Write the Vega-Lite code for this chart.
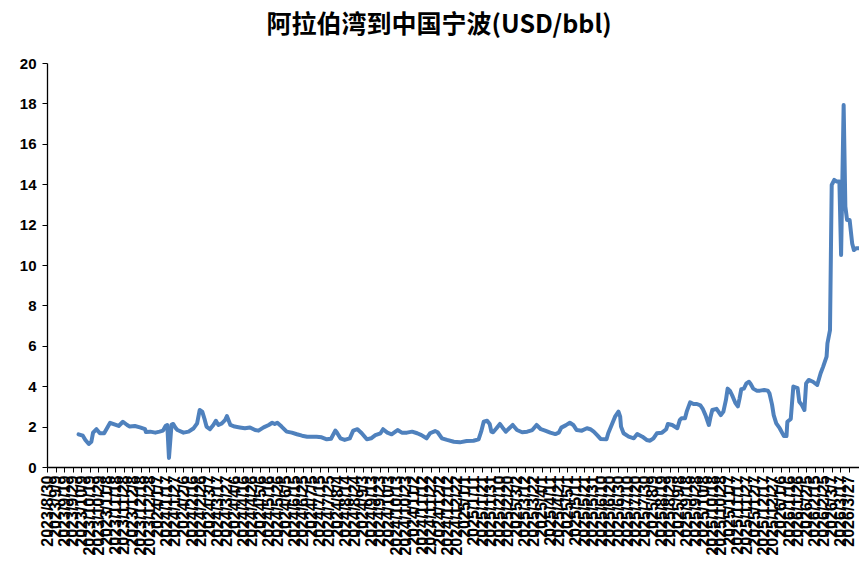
{
  "$schema": "https://vega.github.io/schema/vega-lite/v6.json",
  "autosize": {"type": "none"},
  "width": 812,
  "height": 404,
  "padding": {"left": 47, "top": 63, "right": 0, "bottom": 96},
  "background": "white",
  "title": {
    "text": "阿拉伯湾到中国宁波(USD/bbl)",
    "font": "Noto Sans CJK SC",
    "fontSize": 25,
    "fontWeight": "bold",
    "color": "#000000",
    "anchor": "middle",
    "frame": "bounds",
    "offset": 18
  },
  "config": {
    "view": {"stroke": null},
    "axis": {"grid": false, "domainColor": "#000000", "tickColor": "#000000", "labelColor": "#000000", "labelFont": "Liberation Sans", "labelFontWeight": "bold"}
  },
  "data": {
    "values": [
      {"d": "2023-10-01", "v": 1.62}, {"d": "2023-10-06", "v": 1.55}, {"d": "2023-10-09", "v": 1.34}, {"d": "2023-10-13", "v": 1.14},
      {"d": "2023-10-16", "v": 1.25}, {"d": "2023-10-18", "v": 1.70}, {"d": "2023-10-22", "v": 1.87}, {"d": "2023-10-26", "v": 1.67},
      {"d": "2023-10-31", "v": 1.67}, {"d": "2023-11-07", "v": 2.19}, {"d": "2023-11-12", "v": 2.11}, {"d": "2023-11-17", "v": 2.03},
      {"d": "2023-11-22", "v": 2.24}, {"d": "2023-11-27", "v": 2.08}, {"d": "2023-11-30", "v": 2.00}, {"d": "2023-12-06", "v": 2.03},
      {"d": "2023-12-12", "v": 1.96}, {"d": "2023-12-18", "v": 1.87}, {"d": "2023-12-19", "v": 1.73}, {"d": "2023-12-24", "v": 1.75},
      {"d": "2023-12-30", "v": 1.70}, {"d": "2024-01-04", "v": 1.75}, {"d": "2024-01-08", "v": 1.80}, {"d": "2024-01-11", "v": 2.03},
      {"d": "2024-01-13", "v": 2.08}, {"d": "2024-01-15", "v": 0.45}, {"d": "2024-01-18", "v": 2.10}, {"d": "2024-01-20", "v": 2.13},
      {"d": "2024-01-23", "v": 1.92}, {"d": "2024-01-25", "v": 1.83}, {"d": "2024-02-01", "v": 1.70}, {"d": "2024-02-07", "v": 1.75},
      {"d": "2024-02-13", "v": 1.92}, {"d": "2024-02-17", "v": 2.16}, {"d": "2024-02-20", "v": 2.82}, {"d": "2024-02-23", "v": 2.74},
      {"d": "2024-02-26", "v": 2.33}, {"d": "2024-02-28", "v": 2.00}, {"d": "2024-03-03", "v": 1.87}, {"d": "2024-03-07", "v": 2.08},
      {"d": "2024-03-10", "v": 2.29}, {"d": "2024-03-13", "v": 2.08}, {"d": "2024-03-17", "v": 2.16}, {"d": "2024-03-21", "v": 2.33},
      {"d": "2024-03-23", "v": 2.52}, {"d": "2024-03-27", "v": 2.08}, {"d": "2024-04-01", "v": 2.00}, {"d": "2024-04-07", "v": 1.96},
      {"d": "2024-04-13", "v": 1.92}, {"d": "2024-04-19", "v": 1.96}, {"d": "2024-04-25", "v": 1.83}, {"d": "2024-04-29", "v": 1.80},
      {"d": "2024-05-05", "v": 1.96}, {"d": "2024-05-11", "v": 2.08}, {"d": "2024-05-15", "v": 2.19}, {"d": "2024-05-18", "v": 2.13},
      {"d": "2024-05-21", "v": 2.19}, {"d": "2024-05-26", "v": 2.00}, {"d": "2024-06-01", "v": 1.75}, {"d": "2024-06-07", "v": 1.70},
      {"d": "2024-06-13", "v": 1.62}, {"d": "2024-06-19", "v": 1.55}, {"d": "2024-06-25", "v": 1.50}, {"d": "2024-06-29", "v": 1.50},
      {"d": "2024-07-06", "v": 1.50}, {"d": "2024-07-12", "v": 1.47}, {"d": "2024-07-18", "v": 1.37}, {"d": "2024-07-23", "v": 1.40},
      {"d": "2024-07-28", "v": 1.80}, {"d": "2024-07-30", "v": 1.70}, {"d": "2024-08-03", "v": 1.42}, {"d": "2024-08-08", "v": 1.34},
      {"d": "2024-08-14", "v": 1.42}, {"d": "2024-08-18", "v": 1.80}, {"d": "2024-08-23", "v": 1.87}, {"d": "2024-08-28", "v": 1.67},
      {"d": "2024-09-03", "v": 1.37}, {"d": "2024-09-08", "v": 1.42}, {"d": "2024-09-13", "v": 1.58}, {"d": "2024-09-19", "v": 1.67},
      {"d": "2024-09-22", "v": 1.87}, {"d": "2024-09-27", "v": 1.70}, {"d": "2024-10-02", "v": 1.62}, {"d": "2024-10-09", "v": 1.83},
      {"d": "2024-10-14", "v": 1.70}, {"d": "2024-10-20", "v": 1.70}, {"d": "2024-10-26", "v": 1.75}, {"d": "2024-11-01", "v": 1.67},
      {"d": "2024-11-06", "v": 1.58}, {"d": "2024-11-12", "v": 1.42}, {"d": "2024-11-16", "v": 1.67}, {"d": "2024-11-22", "v": 1.78},
      {"d": "2024-11-25", "v": 1.72}, {"d": "2024-11-30", "v": 1.42}, {"d": "2024-12-06", "v": 1.34}, {"d": "2024-12-14", "v": 1.25},
      {"d": "2024-12-21", "v": 1.22}, {"d": "2024-12-29", "v": 1.29}, {"d": "2025-01-06", "v": 1.30}, {"d": "2025-01-12", "v": 1.37},
      {"d": "2025-01-15", "v": 1.75}, {"d": "2025-01-18", "v": 2.24}, {"d": "2025-01-22", "v": 2.29}, {"d": "2025-01-25", "v": 2.13},
      {"d": "2025-01-27", "v": 1.75}, {"d": "2025-01-29", "v": 1.72}, {"d": "2025-02-02", "v": 1.92}, {"d": "2025-02-06", "v": 2.13},
      {"d": "2025-02-09", "v": 1.96}, {"d": "2025-02-13", "v": 1.75}, {"d": "2025-02-17", "v": 1.92}, {"d": "2025-02-21", "v": 2.08},
      {"d": "2025-02-26", "v": 1.83}, {"d": "2025-03-04", "v": 1.72}, {"d": "2025-03-10", "v": 1.75}, {"d": "2025-03-16", "v": 1.83},
      {"d": "2025-03-21", "v": 2.08}, {"d": "2025-03-26", "v": 1.87}, {"d": "2025-03-31", "v": 1.80}, {"d": "2025-04-06", "v": 1.70},
      {"d": "2025-04-12", "v": 1.63}, {"d": "2025-04-16", "v": 1.70}, {"d": "2025-04-19", "v": 1.95}, {"d": "2025-04-24", "v": 2.06},
      {"d": "2025-04-29", "v": 2.19}, {"d": "2025-05-03", "v": 2.08}, {"d": "2025-05-07", "v": 1.83}, {"d": "2025-05-13", "v": 1.80},
      {"d": "2025-05-19", "v": 1.92}, {"d": "2025-05-23", "v": 1.87}, {"d": "2025-05-27", "v": 1.75}, {"d": "2025-05-31", "v": 1.58},
      {"d": "2025-06-04", "v": 1.39}, {"d": "2025-06-11", "v": 1.37}, {"d": "2025-06-13", "v": 1.67}, {"d": "2025-06-17", "v": 2.08},
      {"d": "2025-06-21", "v": 2.49}, {"d": "2025-06-25", "v": 2.74}, {"d": "2025-06-27", "v": 2.49}, {"d": "2025-06-28", "v": 2.00},
      {"d": "2025-07-01", "v": 1.67}, {"d": "2025-07-07", "v": 1.50}, {"d": "2025-07-13", "v": 1.42}, {"d": "2025-07-17", "v": 1.63},
      {"d": "2025-07-23", "v": 1.50}, {"d": "2025-07-28", "v": 1.34}, {"d": "2025-08-01", "v": 1.30}, {"d": "2025-08-05", "v": 1.42},
      {"d": "2025-08-09", "v": 1.67}, {"d": "2025-08-15", "v": 1.70}, {"d": "2025-08-20", "v": 1.87}, {"d": "2025-08-22", "v": 2.13},
      {"d": "2025-08-27", "v": 2.08}, {"d": "2025-09-02", "v": 1.92}, {"d": "2025-09-05", "v": 2.33}, {"d": "2025-09-07", "v": 2.41},
      {"d": "2025-09-11", "v": 2.41}, {"d": "2025-09-13", "v": 2.74}, {"d": "2025-09-17", "v": 3.20}, {"d": "2025-09-21", "v": 3.12},
      {"d": "2025-09-25", "v": 3.12}, {"d": "2025-09-29", "v": 3.05}, {"d": "2025-10-02", "v": 2.86}, {"d": "2025-10-05", "v": 2.57},
      {"d": "2025-10-09", "v": 2.08}, {"d": "2025-10-11", "v": 2.49}, {"d": "2025-10-13", "v": 2.82}, {"d": "2025-10-18", "v": 2.88},
      {"d": "2025-10-23", "v": 2.57}, {"d": "2025-10-26", "v": 2.74}, {"d": "2025-10-29", "v": 3.32}, {"d": "2025-10-31", "v": 3.88},
      {"d": "2025-11-03", "v": 3.75}, {"d": "2025-11-06", "v": 3.48}, {"d": "2025-11-09", "v": 3.18}, {"d": "2025-11-12", "v": 3.00},
      {"d": "2025-11-14", "v": 3.40}, {"d": "2025-11-16", "v": 3.85}, {"d": "2025-11-19", "v": 3.88}, {"d": "2025-11-22", "v": 4.14},
      {"d": "2025-11-25", "v": 4.22}, {"d": "2025-11-27", "v": 4.11}, {"d": "2025-11-30", "v": 3.88}, {"d": "2025-12-04", "v": 3.78},
      {"d": "2025-12-08", "v": 3.78}, {"d": "2025-12-13", "v": 3.81}, {"d": "2025-12-17", "v": 3.78}, {"d": "2025-12-19", "v": 3.65},
      {"d": "2025-12-22", "v": 3.10}, {"d": "2025-12-24", "v": 2.57}, {"d": "2025-12-27", "v": 2.16}, {"d": "2025-12-31", "v": 1.92},
      {"d": "2026-01-05", "v": 1.53}, {"d": "2026-01-08", "v": 1.53}, {"d": "2026-01-09", "v": 2.24}, {"d": "2026-01-13", "v": 2.38},
      {"d": "2026-01-16", "v": 3.98}, {"d": "2026-01-21", "v": 3.90}, {"d": "2026-01-23", "v": 3.23}, {"d": "2026-01-26", "v": 3.07},
      {"d": "2026-01-29", "v": 2.82}, {"d": "2026-01-31", "v": 4.14}, {"d": "2026-02-03", "v": 4.31}, {"d": "2026-02-08", "v": 4.22},
      {"d": "2026-02-13", "v": 4.06}, {"d": "2026-02-17", "v": 4.64}, {"d": "2026-02-20", "v": 4.97}, {"d": "2026-02-24", "v": 5.46},
      {"d": "2026-02-25", "v": 6.12}, {"d": "2026-02-28", "v": 6.78}, {"d": "2026-03-02", "v": 13.96}, {"d": "2026-03-05", "v": 14.21},
      {"d": "2026-03-08", "v": 14.13}, {"d": "2026-03-11", "v": 14.13}, {"d": "2026-03-13", "v": 10.50}, {"d": "2026-03-16", "v": 17.92},
      {"d": "2026-03-18", "v": 12.89}, {"d": "2026-03-20", "v": 12.23}, {"d": "2026-03-23", "v": 12.23}, {"d": "2026-03-26", "v": 11.07},
      {"d": "2026-03-28", "v": 10.74}, {"d": "2026-03-31", "v": 10.83}, {"d": "2026-04-03", "v": 10.83}
    ]
  },
  "mark": {"type": "line", "color": "#4F81BD", "strokeWidth": 4, "strokeJoin": "round", "strokeCap": "round", "clip": true},
  "encoding": {
    "x": {
      "field": "d",
      "type": "temporal",
      "scale": {"type": "utc", "domain": [{"year": 2023, "month": 8, "date": 25, "utc": true}, {"year": 2026, "month": 4, "date": 3, "utc": true}]},
      "axis": {
        "title": null,
        "labelExpr": "utcFormat(datum.value, '%Y/%-m/%-d')",
        "labelAngle": 270,
        "labelFontSize": 16,
        "labelOverlap": false,
        "labelPadding": 3,
        "labelBound": false,
        "labelFlush": false,
        "tickSize": 5,
        "tickOffset": -4.26,
        "domainWidth": 1.3,
        "values": [
          {"year": 2023, "month": 8, "date": 30, "utc": true}, {"year": 2023, "month": 9, "date": 9, "utc": true}, {"year": 2023, "month": 9, "date": 19, "utc": true}, {"year": 2023, "month": 9, "date": 29, "utc": true},
          {"year": 2023, "month": 10, "date": 9, "utc": true}, {"year": 2023, "month": 10, "date": 19, "utc": true}, {"year": 2023, "month": 10, "date": 29, "utc": true}, {"year": 2023, "month": 11, "date": 8, "utc": true},
          {"year": 2023, "month": 11, "date": 18, "utc": true}, {"year": 2023, "month": 11, "date": 28, "utc": true}, {"year": 2023, "month": 12, "date": 8, "utc": true}, {"year": 2023, "month": 12, "date": 18, "utc": true},
          {"year": 2023, "month": 12, "date": 28, "utc": true}, {"year": 2024, "month": 1, "date": 7, "utc": true}, {"year": 2024, "month": 1, "date": 17, "utc": true}, {"year": 2024, "month": 1, "date": 27, "utc": true},
          {"year": 2024, "month": 2, "date": 6, "utc": true}, {"year": 2024, "month": 2, "date": 16, "utc": true}, {"year": 2024, "month": 2, "date": 26, "utc": true}, {"year": 2024, "month": 3, "date": 7, "utc": true},
          {"year": 2024, "month": 3, "date": 17, "utc": true}, {"year": 2024, "month": 3, "date": 27, "utc": true}, {"year": 2024, "month": 4, "date": 6, "utc": true}, {"year": 2024, "month": 4, "date": 16, "utc": true},
          {"year": 2024, "month": 4, "date": 26, "utc": true}, {"year": 2024, "month": 5, "date": 6, "utc": true}, {"year": 2024, "month": 5, "date": 16, "utc": true}, {"year": 2024, "month": 5, "date": 26, "utc": true},
          {"year": 2024, "month": 6, "date": 5, "utc": true}, {"year": 2024, "month": 6, "date": 15, "utc": true}, {"year": 2024, "month": 6, "date": 25, "utc": true}, {"year": 2024, "month": 7, "date": 5, "utc": true},
          {"year": 2024, "month": 7, "date": 15, "utc": true}, {"year": 2024, "month": 7, "date": 25, "utc": true}, {"year": 2024, "month": 8, "date": 4, "utc": true}, {"year": 2024, "month": 8, "date": 14, "utc": true},
          {"year": 2024, "month": 8, "date": 24, "utc": true}, {"year": 2024, "month": 9, "date": 3, "utc": true}, {"year": 2024, "month": 9, "date": 13, "utc": true}, {"year": 2024, "month": 9, "date": 23, "utc": true},
          {"year": 2024, "month": 10, "date": 3, "utc": true}, {"year": 2024, "month": 10, "date": 13, "utc": true}, {"year": 2024, "month": 10, "date": 23, "utc": true}, {"year": 2024, "month": 11, "date": 2, "utc": true},
          {"year": 2024, "month": 11, "date": 12, "utc": true}, {"year": 2024, "month": 11, "date": 22, "utc": true}, {"year": 2024, "month": 12, "date": 2, "utc": true}, {"year": 2024, "month": 12, "date": 12, "utc": true},
          {"year": 2024, "month": 12, "date": 22, "utc": true}, {"year": 2025, "month": 1, "date": 1, "utc": true}, {"year": 2025, "month": 1, "date": 11, "utc": true}, {"year": 2025, "month": 1, "date": 21, "utc": true},
          {"year": 2025, "month": 1, "date": 31, "utc": true}, {"year": 2025, "month": 2, "date": 10, "utc": true}, {"year": 2025, "month": 2, "date": 20, "utc": true}, {"year": 2025, "month": 3, "date": 2, "utc": true},
          {"year": 2025, "month": 3, "date": 12, "utc": true}, {"year": 2025, "month": 3, "date": 22, "utc": true}, {"year": 2025, "month": 4, "date": 1, "utc": true}, {"year": 2025, "month": 4, "date": 11, "utc": true},
          {"year": 2025, "month": 4, "date": 21, "utc": true}, {"year": 2025, "month": 5, "date": 1, "utc": true}, {"year": 2025, "month": 5, "date": 11, "utc": true}, {"year": 2025, "month": 5, "date": 21, "utc": true},
          {"year": 2025, "month": 5, "date": 31, "utc": true}, {"year": 2025, "month": 6, "date": 10, "utc": true}, {"year": 2025, "month": 6, "date": 20, "utc": true}, {"year": 2025, "month": 6, "date": 30, "utc": true},
          {"year": 2025, "month": 7, "date": 10, "utc": true}, {"year": 2025, "month": 7, "date": 20, "utc": true}, {"year": 2025, "month": 7, "date": 30, "utc": true}, {"year": 2025, "month": 8, "date": 9, "utc": true},
          {"year": 2025, "month": 8, "date": 19, "utc": true}, {"year": 2025, "month": 8, "date": 29, "utc": true}, {"year": 2025, "month": 9, "date": 8, "utc": true}, {"year": 2025, "month": 9, "date": 18, "utc": true},
          {"year": 2025, "month": 9, "date": 28, "utc": true}, {"year": 2025, "month": 10, "date": 8, "utc": true}, {"year": 2025, "month": 10, "date": 18, "utc": true}, {"year": 2025, "month": 10, "date": 28, "utc": true},
          {"year": 2025, "month": 11, "date": 7, "utc": true}, {"year": 2025, "month": 11, "date": 17, "utc": true}, {"year": 2025, "month": 11, "date": 27, "utc": true}, {"year": 2025, "month": 12, "date": 7, "utc": true},
          {"year": 2025, "month": 12, "date": 17, "utc": true}, {"year": 2025, "month": 12, "date": 27, "utc": true}, {"year": 2026, "month": 1, "date": 6, "utc": true}, {"year": 2026, "month": 1, "date": 16, "utc": true},
          {"year": 2026, "month": 1, "date": 26, "utc": true}, {"year": 2026, "month": 2, "date": 5, "utc": true}, {"year": 2026, "month": 2, "date": 15, "utc": true}, {"year": 2026, "month": 2, "date": 25, "utc": true},
          {"year": 2026, "month": 3, "date": 7, "utc": true}, {"year": 2026, "month": 3, "date": 17, "utc": true}, {"year": 2026, "month": 3, "date": 27, "utc": true}
        ]
      }
    },
    "y": {
      "field": "v",
      "type": "quantitative",
      "scale": {"domain": [0, 20], "nice": false},
      "axis": {
        "title": null,
        "values": [0, 2, 4, 6, 8, 10, 12, 14, 16, 18, 20],
        "labelFontSize": 15,
        "labelPadding": 6,
        "tickSize": 5,
        "domainWidth": 1.3
      }
    }
  }
}
